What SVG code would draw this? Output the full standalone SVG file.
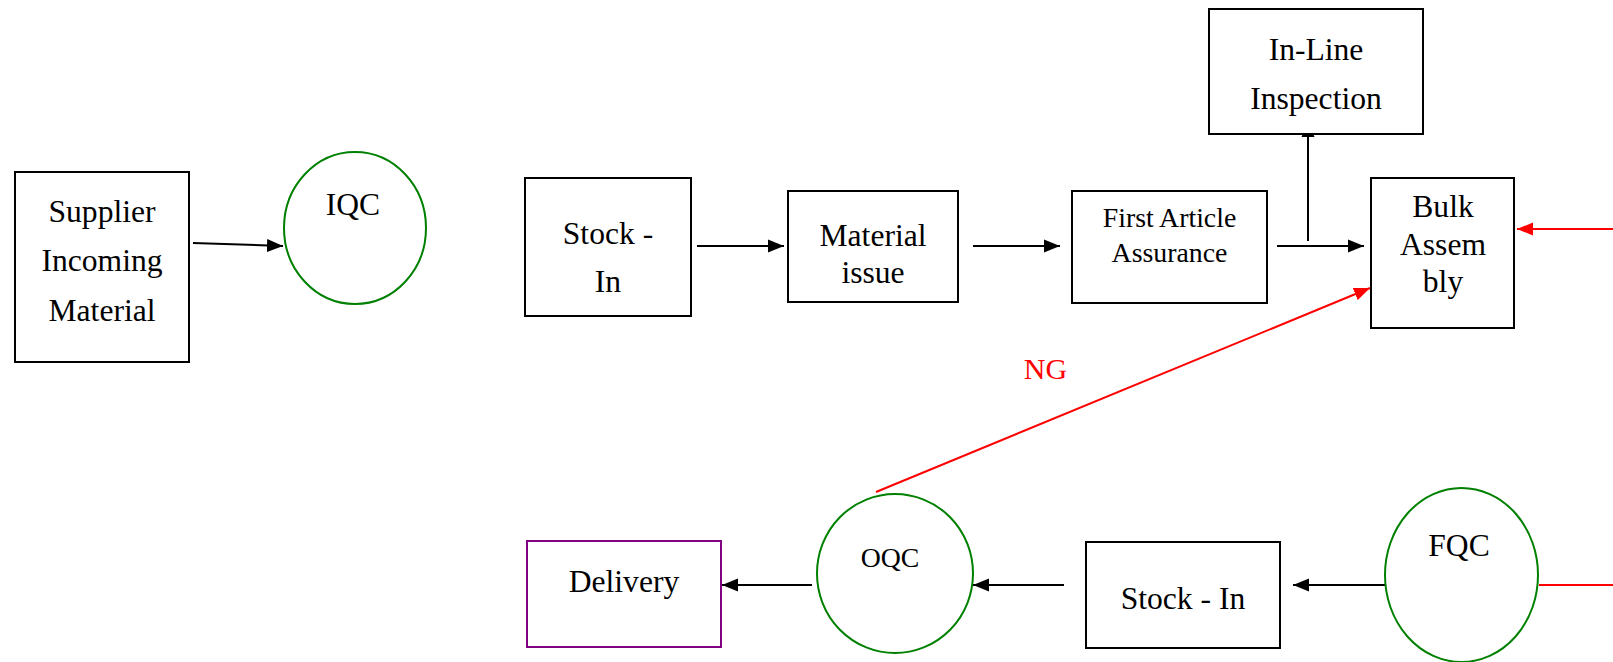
<svg xmlns="http://www.w3.org/2000/svg" width="1613" height="662" viewBox="0 0 1613 662">
<style>
  text { font-family: "Liberation Serif", "Times New Roman", serif; font-size: 31.6px; fill: #000; text-anchor: middle; }
  .small { font-size: 27.8px; }
  .ng { fill: #ff0000; font-size: 30px; }
  .box { fill: #fff; stroke: #000; stroke-width: 2; }
  .pbox { fill: #fff; stroke: #800080; stroke-width: 2; }
  .circ { fill: #fff; stroke: #008000; stroke-width: 2; }
  .conn { stroke: #000; stroke-width: 2; fill: none; }
  .red { stroke: #ff0000; stroke-width: 2; fill: none; }
</style>
<defs>
  <marker id="ah" markerWidth="16" markerHeight="14" refX="16" refY="7" orient="auto" markerUnits="userSpaceOnUse">
    <path d="M0,0.5 L16,7 L0,13.5 z" fill="#000"/>
  </marker>
  <marker id="ahr" markerWidth="16" markerHeight="14" refX="16" refY="7" orient="auto" markerUnits="userSpaceOnUse">
    <path d="M0,0.5 L16,7 L0,13.5 z" fill="#ff0000"/>
  </marker>
</defs>
<rect width="1613" height="662" fill="#fff"/>
<g id="connectors">
  <line class="conn" x1="193" y1="243" x2="283" y2="246" marker-end="url(#ah)"/>
  <line class="conn" x1="697" y1="246" x2="784" y2="246" marker-end="url(#ah)"/>
  <line class="conn" x1="973" y1="246" x2="1060" y2="246" marker-end="url(#ah)"/>
  <line class="conn" x1="1277" y1="246" x2="1364" y2="246" marker-end="url(#ah)"/>
  <line class="conn" x1="1308" y1="241" x2="1308" y2="121" marker-end="url(#ah)"/>
  <line class="conn" x1="1385" y1="585" x2="1293" y2="585" marker-end="url(#ah)"/>
  <line class="conn" x1="1064" y1="585" x2="973" y2="585" marker-end="url(#ah)"/>
  <line class="conn" x1="812" y1="585" x2="722" y2="585" marker-end="url(#ah)"/>
  <line class="red" x1="1613" y1="229" x2="1517" y2="229" marker-end="url(#ahr)"/>
  <line class="red" x1="876" y1="492" x2="1370" y2="288" marker-end="url(#ahr)"/>
  <line class="red" x1="1539" y1="585" x2="1613" y2="585"/>
  <text class="ng" x="1045.5" y="379">NG</text>
</g>
<g id="supplier">
  <rect class="box" x="15" y="172" width="174" height="190"/>
  <text x="102" y="222">Supplier</text>
  <text x="102" y="271">Incoming</text>
  <text x="102" y="320.5">Material</text>
</g>
<g id="iqc">
  <ellipse class="circ" cx="355" cy="228" rx="71" ry="76"/>
  <text x="353" y="215">IQC</text>
</g>
<g id="stock-in-1">
  <rect class="box" x="525" y="178" width="166" height="138"/>
  <text x="608" y="243.5">Stock -</text>
  <text x="608" y="292">In</text>
</g>
<g id="material-issue">
  <rect class="box" x="788" y="191" width="170" height="111"/>
  <text x="873" y="246">Material</text>
  <text x="873" y="283">issue</text>
</g>
<g id="first-article">
  <rect class="box" x="1072" y="191" width="195" height="112"/>
  <text class="small" x="1169.5" y="227">First Article</text>
  <text class="small" x="1169.5" y="262">Assurance</text>
</g>
<g id="inline-inspection">
  <rect class="box" x="1209" y="9" width="214" height="125"/>
  <text x="1316" y="59.5">In-Line</text>
  <text x="1316" y="108.5">Inspection</text>
</g>
<g id="bulk-assembly">
  <rect class="box" x="1371" y="178" width="143" height="150"/>
  <text x="1443" y="217">Bulk</text>
  <text x="1443" y="254.5">Assem</text>
  <text x="1443" y="292">bly</text>
</g>
<g id="fqc">
  <ellipse class="circ" cx="1461.5" cy="575" rx="76.5" ry="87"/>
  <text x="1459" y="556">FQC</text>
</g>
<g id="stock-in-2">
  <rect class="box" x="1086" y="542" width="194" height="106"/>
  <text x="1183" y="608.5">Stock - In</text>
</g>
<g id="oqc">
  <ellipse class="circ" cx="895" cy="573.5" rx="78" ry="79.5"/>
  <text class="small" x="890" y="567">OQC</text>
</g>
<g id="delivery">
  <rect class="pbox" x="527" y="541" width="194" height="106"/>
  <text x="624" y="592">Delivery</text>
</g>
</svg>
